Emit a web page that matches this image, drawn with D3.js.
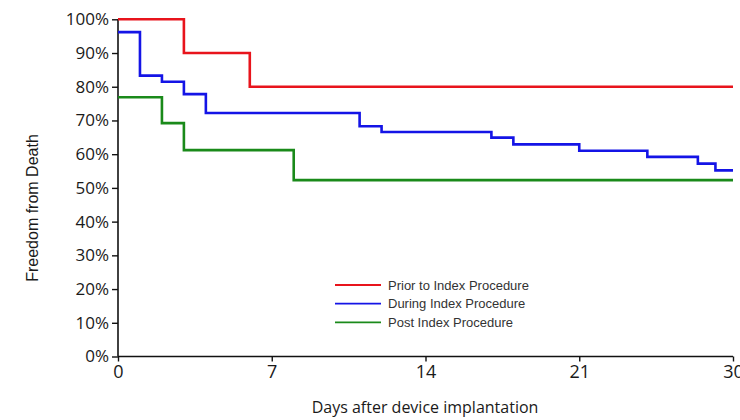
<!DOCTYPE html>
<html>
<head>
<meta charset="utf-8">
<script src="https://cdn.jsdelivr.net/npm/d3@7"></script>
<style>
  body { margin: 0; background: #fff; }
  svg { display: block; }
</style>
</head>
<body>
<svg id="chart" width="740" height="420"></svg>
<script>
// ---- data ----
const seriesNames = ["Prior to Index Procedure", "During Index Procedure", "Post Index Procedure"];
const seriesColors = ["#e8141c", "#1414e6", "#1a8a1a"];
// step points: [day, survival] – value holds from that day onward
const priorSteps = [[0, 1.00], [3, 0.90], [6, 0.80], [28, 0.80]];
const duringSteps = [[0, 0.962], [1, 0.833], [2, 0.815], [3, 0.778], [4, 0.722], [11, 0.683], [12, 0.666],
                     [17, 0.649], [18, 0.629], [21, 0.610], [24.1, 0.592], [26.4, 0.572], [27.2, 0.552], [28, 0.552]];
const postSteps = [[0, 0.769], [2, 0.692], [3, 0.612], [8, 0.523], [28, 0.523]];
const xTickValues = [0, 7, 14, 21, 28];
const xTickLabels = ["0", "7", "14", "21", "30"];
const yTickValues = [0, 0.1, 0.2, 0.3, 0.4, 0.5, 0.6, 0.7, 0.8, 0.9, 1.0];

const allSeries = [priorSteps, duringSteps, postSteps];

// ---- layout ----
const svg = d3.select("#chart");
const x = d3.scaleLinear().domain([0, 28]).range([118, 733]);
const y = d3.scaleLinear().domain([0, 1]).range([356.5, 19.3]);

// axes
const yAxis = d3.axisLeft(y).tickValues(yTickValues).tickSize(6).tickPadding(3)
  .tickFormat(d3.format(".0%"));
const gy = svg.append("g").attr("transform", `translate(${x(0)},0)`).call(yAxis);
gy.select(".domain").attr("stroke", "#111").attr("stroke-width", 1.6)
  .attr("d", `M0,${y(1)}V${y(0)}`);
gy.selectAll(".tick line").attr("stroke", "#111").attr("stroke-width", 1.4);
gy.selectAll(".tick text").attr("fill", "#1a1a1a")
  .style("font-family", "'Open Sans', sans-serif").style("font-size", "17px");

const xAxis = d3.axisBottom(x).tickValues(xTickValues).tickSize(5).tickPadding(4)
  .tickFormat((d, i) => xTickLabels[i]);
const gx = svg.append("g").attr("transform", `translate(0,${y(0)})`).call(xAxis);
gx.select(".domain").attr("stroke", "#111").attr("stroke-width", 1.6)
  .attr("d", `M${x(0)},0H${x(28)}`);
gx.selectAll(".tick line").attr("stroke", "#111").attr("stroke-width", 1.4);
gx.selectAll(".tick text").attr("fill", "#1a1a1a")
  .style("font-family", "'Open Sans', sans-serif").style("font-size", "18px");

// step lines
const line = d3.line().x(d => x(d[0])).y(d => y(d[1])).curve(d3.curveStepAfter);
allSeries.forEach((s, i) => {
  svg.append("path").datum(s)
    .attr("fill", "none")
    .attr("stroke", seriesColors[i])
    .attr("stroke-width", 2.6)
    .attr("d", line);
});

// titles
svg.append("text")
  .attr("x", 425).attr("y", 413)
  .attr("text-anchor", "middle")
  .attr("fill", "#1a1a1a")
  .style("font-family", "'Open Sans', sans-serif").style("font-size", "16px")
  .text("Days after device implantation");

svg.append("text")
  .attr("transform", "translate(38,208) rotate(-90)")
  .attr("text-anchor", "middle")
  .attr("fill", "#1a1a1a")
  .style("font-family", "'Liberation Sans', Arial, sans-serif").style("font-size", "16px")
  .text("Freedom from Death");

// legend
const legend = svg.append("g").attr("transform", "translate(335,285)");
seriesNames.forEach((name, i) => {
  const g = legend.append("g").attr("transform", `translate(0,${i * 18.7})`);
  g.append("line").attr("x1", 0).attr("x2", 46).attr("y1", 0).attr("y2", 0)
    .attr("stroke", seriesColors[i]).attr("stroke-width", 1.8);
  g.append("text").attr("x", 53).attr("y", 0).attr("dy", "0.35em")
    .attr("fill", "#333")
    .style("font-family", "'Liberation Sans', Arial, sans-serif").style("font-size", "13px")
    .text(name);
});
</script>
</body>
</html>
